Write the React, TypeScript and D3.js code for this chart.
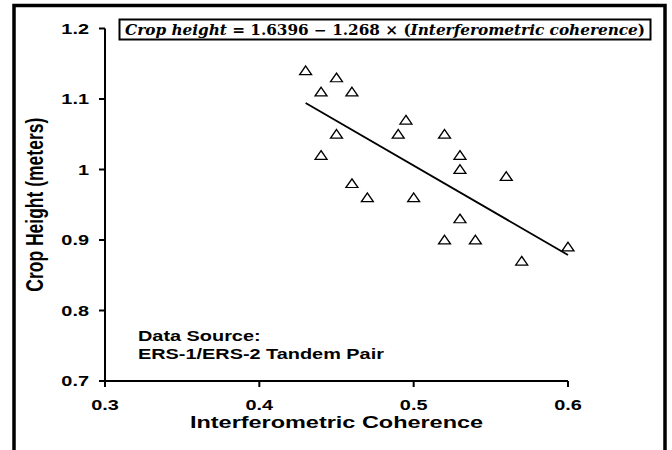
import React from "react";
import * as d3 from "d3";

// readings from the scatter
const coherence = [0.43, 0.45, 0.44, 0.46, 0.495, 0.45, 0.49, 0.52, 0.44, 0.53, 0.53, 0.56, 0.46, 0.47, 0.5, 0.53, 0.52, 0.54, 0.6, 0.57];
const cropHeight = [1.14, 1.13, 1.11, 1.11, 1.07, 1.05, 1.05, 1.05, 1.02, 1.02, 1.0, 0.99, 0.98, 0.96, 0.96, 0.93, 0.9, 0.9, 0.89, 0.87];

const fitIntercept = 1.6396;
const fitSlope = -1.268;
const fitRange = [0.43, 0.6];

const xTicks = [0.3, 0.4, 0.5, 0.6];
const yTicks = [0.7, 0.8, 0.9, 1, 1.1, 1.2];

const sans = "'Liberation Sans', Arial, sans-serif";
const serif = "'DejaVu Serif', 'Liberation Serif', serif";
const SX = 1.42; // the source picture is stretched sideways

export default function App() {
  const W = 672;
  const H = 450;
  const margin = { top: 28.5, left: 105, right: 104, bottom: 69 };

  const x = d3.scaleLinear().domain([0.3, 0.6]).range([margin.left, W - margin.right]);
  const y = d3.scaleLinear().domain([0.7, 1.2]).range([H - margin.bottom, margin.top]);

  const tri = d3.symbol().type(d3.symbolTriangle).size(43)();
  const fitLine = d3
    .line<number>()
    .x((d) => x(d))
    .y((d) => y(fitIntercept + fitSlope * d))(fitRange);

  const x0 = x(0.3);
  const y0 = y(0.7);

  return (
    <svg width={W} height={H} style={{ position: "absolute", left: 0, top: 0, background: "#fff" }}>
      <rect x={14} y={5.5} width={651} height={470} fill="none" stroke="#000" strokeWidth={3.5} />

      {/* equation box */}
      <rect x={119.5} y={19.5} width={531} height={20} fill="none" stroke="#000" strokeWidth={2} />
      <text
        x={125}
        y={34.5}
        fontFamily={serif}
        fontSize={14}
        fontWeight="bold"
        textLength={520}
        lengthAdjust="spacingAndGlyphs"
      >
        <tspan fontStyle="italic">Crop height</tspan>
        <tspan> = 1.6396 − 1.268 × (</tspan>
        <tspan fontStyle="italic">Interferometric coherence</tspan>
        <tspan>)</tspan>
      </text>

      {/* axes */}
      <g stroke="#000" strokeWidth={2} fill="none">
        <line x1={x0} y1={y(1.2)} x2={x0} y2={y0 + 6} />
        <line x1={x0} y1={y0} x2={x(0.6)} y2={y0} />
        {yTicks.map((t) => (
          <line key={"yt" + t} x1={x0 - 6} x2={x0} y1={y(t)} y2={y(t)} />
        ))}
        {xTicks.map((t) => (
          <line key={"xt" + t} x1={x(t)} x2={x(t)} y1={y0} y2={y0 + 6} />
        ))}
      </g>

      <g fontFamily={sans} fontWeight="bold" fontSize={14} fill="#000">
        {yTicks.map((t) => (
          <text key={"yl" + t} transform={`translate(${x0 - 16},${y(t) + 5}) scale(${SX},1)`} textAnchor="end">
            {d3.format("")(t)}
          </text>
        ))}
        {xTicks.map((t) => (
          <text key={"xl" + t} transform={`translate(${x(t)},${y0 + 29}) scale(${SX},1)`} textAnchor="middle">
            {t}
          </text>
        ))}
        <text transform={`translate(138,341) scale(${SX},1)`}>Data Source:</text>
        <text transform={`translate(138,359) scale(${SX},1)`}>ERS-1/ERS-2 Tandem Pair</text>
        <text
          transform={`translate(${(x0 + x(0.6)) / 2},${y0 + 47}) scale(1.38,1)`}
          textAnchor="middle"
          fontSize={17}
        >
          Interferometric Coherence
        </text>
        <text
          transform={`translate(43,${(y(0.7) + y(1.2)) / 2}) scale(1.32,1) rotate(-90)`}
          textAnchor="middle"
          fontSize={17.5}
        >
          Crop Height (meters)
        </text>
      </g>

      <path d={fitLine ?? ""} fill="none" stroke="#000" strokeWidth={1.8} />

      <g>
        {coherence.map((c, i) => (
          <path
            key={i}
            d={tri ?? ""}
            transform={`translate(${x(c)},${y(cropHeight[i]) + 1}) scale(1.2,1)`}
            fill="#fff"
            stroke="#000"
            strokeWidth={1.2}
          />
        ))}
      </g>
    </svg>
  );
}
